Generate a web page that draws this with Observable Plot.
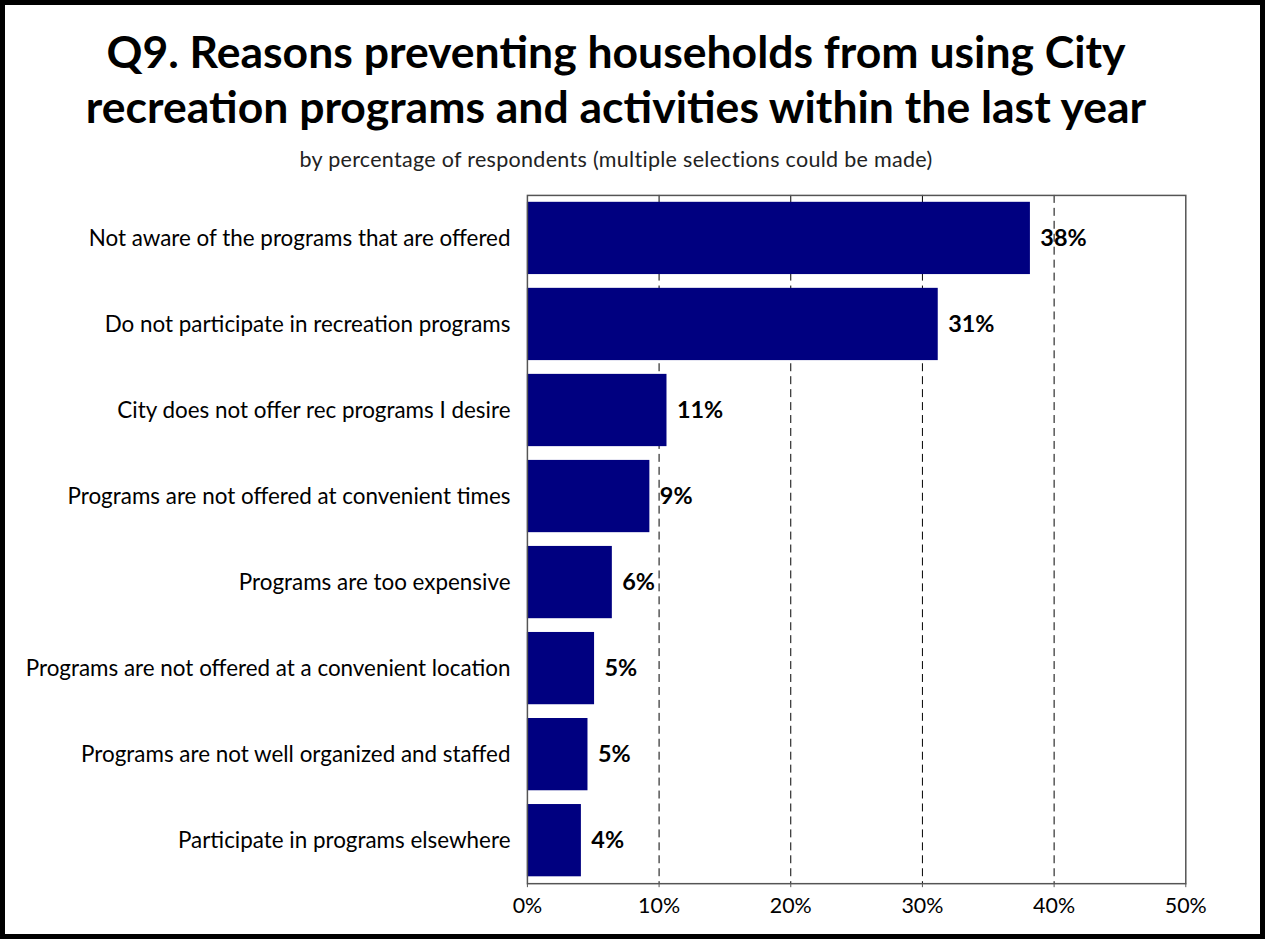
<!DOCTYPE html>
<html><head><meta charset="utf-8">
<script src="https://cdn.jsdelivr.net/npm/d3@7"></script>
<script src="https://cdn.jsdelivr.net/npm/@observablehq/plot@0.6"></script>
<style>
body{margin:0;background:#fff;}
#wrap{position:relative;width:1265px;height:939px;box-sizing:border-box;border:5px solid #000;font-family:Lato,"Open Sans",sans-serif;overflow:hidden;}
#title{position:absolute;left:0;top:18px;width:1222px;text-align:center;font-weight:bold;font-size:44.5px;line-height:55px;color:#000;}
#sub{position:absolute;left:0;top:141px;width:1222px;text-align:center;font-size:21.5px;letter-spacing:0.3px;color:#222;}
#chart{position:absolute;left:-5px;top:170px;}
</style></head>
<body><div id="wrap">
<div id="title">Q9. Reasons preventing households from using City<br>recreation programs and activities within the last year</div>
<div id="sub">by percentage of respondents (multiple selections could be made)</div>
<div id="chart"></div>
</div>
<script>
const categories = [
  "Not aware of the programs that are offered",
  "Do not participate in recreation programs",
  "City does not offer rec programs I desire",
  "Programs are not offered at convenient times",
  "Programs are too expensive",
  "Programs are not offered at a convenient location",
  "Programs are not well organized and staffed",
  "Participate in programs elsewhere"
];
const values = [38.2, 31.2, 10.6, 9.3, 6.45, 5.1, 4.6, 4.1];
const xTicks = [0, 10, 20, 30, 40, 50];
const gridTicks = [10, 20, 30, 40];

const data = categories.map((c, i) => ({category: c, value: values[i]}));

const chart = Plot.plot({
  width: 1265,
  height: 745,
  marginLeft: 529,
  marginRight: 75,
  marginTop: 20,
  marginBottom: 34,
  style: {fontFamily: "Lato, 'Open Sans', sans-serif", fontSize: "21px", color: "#000", background: "transparent"},
  x: {domain: [0, 50], ticks: xTicks, tickFormat: d => d + "%", label: null, tickSize: 4, tickPadding: 10},
  y: {domain: categories, label: null, tickSize: 0, tickPadding: 17, paddingInner: 0.16, paddingOuter: 0.08, round: false},
  marks: [
    Plot.ruleX(gridTicks, {stroke: "#000", strokeDasharray: "8,5", strokeWidth: 1}),
    Plot.barX(data, {x: "value", y: "category", fill: "#000080"}),
    Plot.text(data, {x: "value", y: "category", text: d => Math.round(d.value) + "%", textAnchor: "start", dx: 10, fontWeight: "bold", fontSize: 23.5, fill: "#000"}),
    Plot.frame({stroke: "#555", strokeWidth: 1.5}),
    Plot.axisX({ticks: xTicks, tickFormat: d => d + "%", tickSize: 4, tickPadding: 10, fontSize: 21.5, stroke: "#555"}),
    Plot.axisY({tickSize: 0, tickPadding: 17, fontSize: 22.5})
  ]
});
document.getElementById("chart").appendChild(chart);
</script>
</body></html>
